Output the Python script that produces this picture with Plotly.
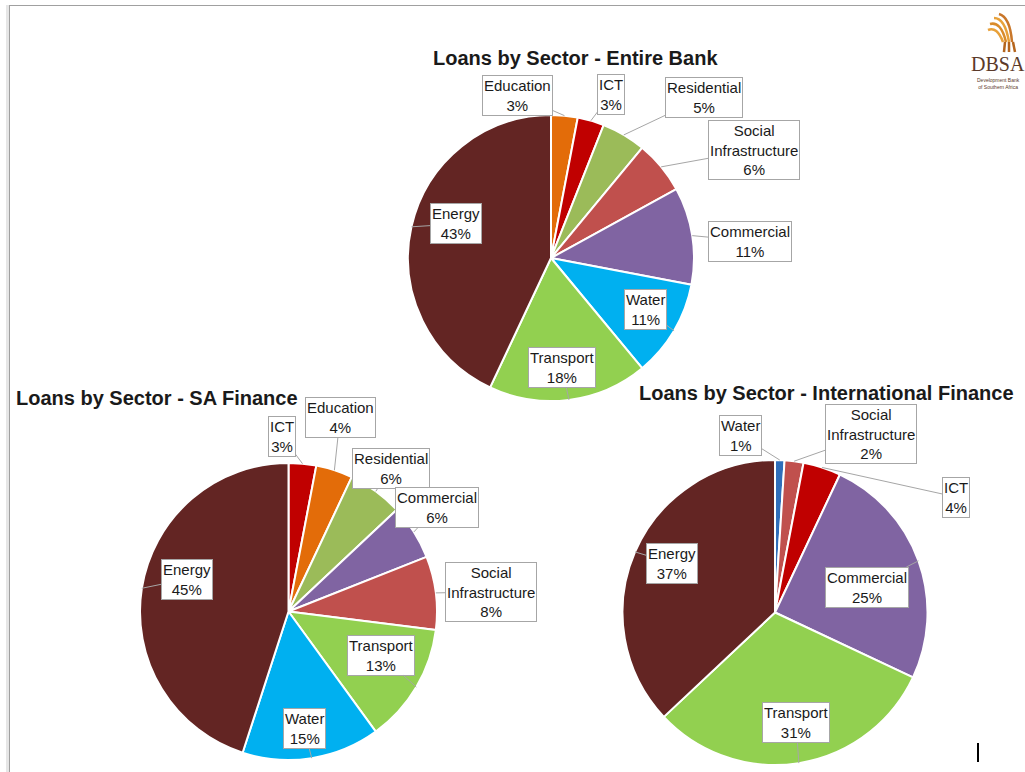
import math
import plotly.graph_objects as go

W, H = 1025, 772

# ---------------- data ----------------
eb_sectors = ["Education", "ICT", "Residential", "Social Infrastructure",
              "Commercial", "Water", "Transport", "Energy"]
eb_values = [3, 3, 5, 6, 11, 11, 18, 43]

sa_sectors = ["ICT", "Education", "Residential", "Commercial",
              "Social Infrastructure", "Transport", "Water", "Energy"]
sa_values = [3, 4, 6, 6, 8, 13, 15, 45]

int_sectors = ["Water", "Social Infrastructure", "ICT", "Commercial",
               "Transport", "Energy"]
int_values = [1, 2, 4, 25, 31, 37]

titles = ["Loans by Sector - Entire Bank",
          "Loans by Sector - SA Finance",
          "Loans by Sector - International Finance"]

# ---------------- styles ----------------
colors = {
    "Energy": "#632523",
    "Transport": "#92D050",
    "Water": "#00B0F0",
    "Commercial": "#8064A2",
    "Social Infrastructure": "#C0504D",
    "Residential": "#9BBB59",
    "ICT": "#C00000",
    "Education": "#E36C09",
}
int_colors = dict(colors, Water="#2F6EBA")

# pie geometry in pixels: centre x, centre y, radius
geo = {
    "eb": (551, 258, 143),
    "sa": (288.5, 611.5, 148.5),
    "int": (775, 612.5, 152.5),
}
# label box centres in pixels
label_pos = {
    "eb": {"Education": (517, 95), "ICT": (611, 94), "Residential": (704, 97),
           "Social Infrastructure": (754, 150), "Commercial": (750, 241),
           "Water": (645, 309), "Transport": (562, 367), "Energy": (456, 224)},
    "sa": {"ICT": (282, 436), "Education": (340, 418), "Residential": (391, 468),
           "Commercial": (437, 507), "Social Infrastructure": (491, 592),
           "Transport": (381, 655), "Water": (304, 728), "Energy": (187, 579)},
    "int": {"Water": (740, 435), "Social Infrastructure": (871, 434),
            "ICT": (956, 497), "Commercial": (867, 587),
            "Transport": (796, 722), "Energy": (672, 563)},
}
title_pos = {"eb": (575, 58), "sa": (157, 398), "int": (826, 393)}

FONT = "Liberation Sans, Arial, sans-serif"


def px(x):
    return x / W


def py(y):
    return 1 - y / H


fig = go.Figure()
annotations = []

charts = [
    ("eb", eb_sectors, eb_values, colors, titles[0]),
    ("sa", sa_sectors, sa_values, colors, titles[1]),
    ("int", int_sectors, int_values, int_colors, titles[2]),
]

for key, sectors, values, cmap, title in charts:
    cx, cy, r = geo[key]
    fig.add_trace(go.Pie(
        labels=sectors, values=values, sort=False, direction="clockwise",
        rotation=0, textinfo="none", hoverinfo="label+percent",
        marker=dict(colors=[cmap[s] for s in sectors],
                    line=dict(color="white", width=2)),
        domain=dict(x=[px(cx - r), px(cx + r)], y=[py(cy + r), py(cy - r)]),
        showlegend=False,
    ))
    total = sum(values)
    cum = 0
    for s, v in zip(sectors, values):
        mid = (cum + v / 2) / total * 2 * math.pi
        cum += v
        tx = cx + r * math.sin(mid)
        ty = cy - r * math.cos(mid)
        bx, by = label_pos[key][s]
        name = s.replace(" ", "<br>")
        annotations.append(dict(
            x=px(tx), y=py(ty), xref="paper", yref="paper",
            ax=bx - tx, ay=by - ty, axref="pixel", ayref="pixel",
            text=f"{name}<br>{v}%", showarrow=True, arrowhead=0,
            arrowwidth=1, arrowcolor="#a6a6a6",
            font=dict(family=FONT, size=15, color="#1a1a1a"),
            bgcolor="white", bordercolor="#a6a6a6", borderwidth=1, borderpad=1,
        ))
    tx_, ty_ = title_pos[key]
    annotations.append(dict(
        x=px(tx_), y=py(ty_), xref="paper", yref="paper", showarrow=False,
        text=f"<b>{title}</b>", xanchor="center", yanchor="middle",
        font=dict(family=FONT, size=20, color="#1a1a1a"),
    ))

# logo text
annotations.append(dict(
    x=px(998), y=py(64), xref="paper", yref="paper", showarrow=False,
    xanchor="center", yanchor="middle",
    text="DBSA", font=dict(family="Liberation Serif, DejaVu Serif, serif",
                           size=20, color="#5b3a29"),
))
annotations.append(dict(
    x=px(998), y=py(84), xref="paper", yref="paper", showarrow=False,
    xanchor="center", yanchor="middle",
    text="Development Bank<br>of Southern Africa",
    font=dict(family=FONT, size=5, color="#5b3a29"),
))

shapes = [
    # slide frame
    dict(type="rect", xref="paper", yref="paper", x0=px(6), x1=px(9),
         y0=0, y1=py(5), fillcolor="#e6e6e6", line=dict(width=0)),
    dict(type="line", xref="paper", yref="paper", x0=px(9.5), x1=px(9.5),
         y0=0, y1=py(5), line=dict(color="#a0a0a0", width=1)),
    dict(type="line", xref="paper", yref="paper", x0=px(9.5), x1=1,
         y0=py(5.5), y1=py(5.5), line=dict(color="#a0a0a0", width=1)),
    # cursor mark
    dict(type="line", xref="paper", yref="paper", x0=px(978), x1=px(978),
         y0=py(743), y1=py(762), line=dict(color="black", width=2)),
]
# logo icon strokes
logo_paths = [
    ("M 988 30 Q 997 26 1003 42", "#e8a13a"),
    ("M 990 24 Q 1001 21 1006 42", "#d98b2b"),
    ("M 994 18 Q 1005 18 1009 42", "#e8a13a"),
    ("M 999 14 Q 1010 17 1012 42", "#c9772a"),
    ("M 1005 42 L 1004 52", "#b5651d"),
    ("M 1009 42 L 1009 52", "#b5651d"),
    ("M 1013 42 L 1015 52", "#b5651d"),
]
for d, c in logo_paths:
    parts = d.split()
    conv = []
    i = 0
    while i < len(parts):
        tok = parts[i]
        if tok.isalpha():
            conv.append(tok)
            i += 1
        else:
            xx = float(parts[i]); yy = float(parts[i + 1])
            conv.append(f"{px(xx):.5f},{py(yy):.5f}")
            i += 2
    shapes.append(dict(type="path", xref="paper", yref="paper",
                       path=" ".join(conv), line=dict(color=c, width=2.5)))

fig.update_layout(
    width=W, height=H, autosize=False,
    margin=dict(l=0, r=0, t=0, b=0),
    paper_bgcolor="white", plot_bgcolor="white",
    annotations=annotations, shapes=shapes,
)

fig.write_html("out.html",
               config={"displayModeBar": False},
               post_script="document.body.style.margin='0px';"
                           "document.body.style.overflow='hidden';")
